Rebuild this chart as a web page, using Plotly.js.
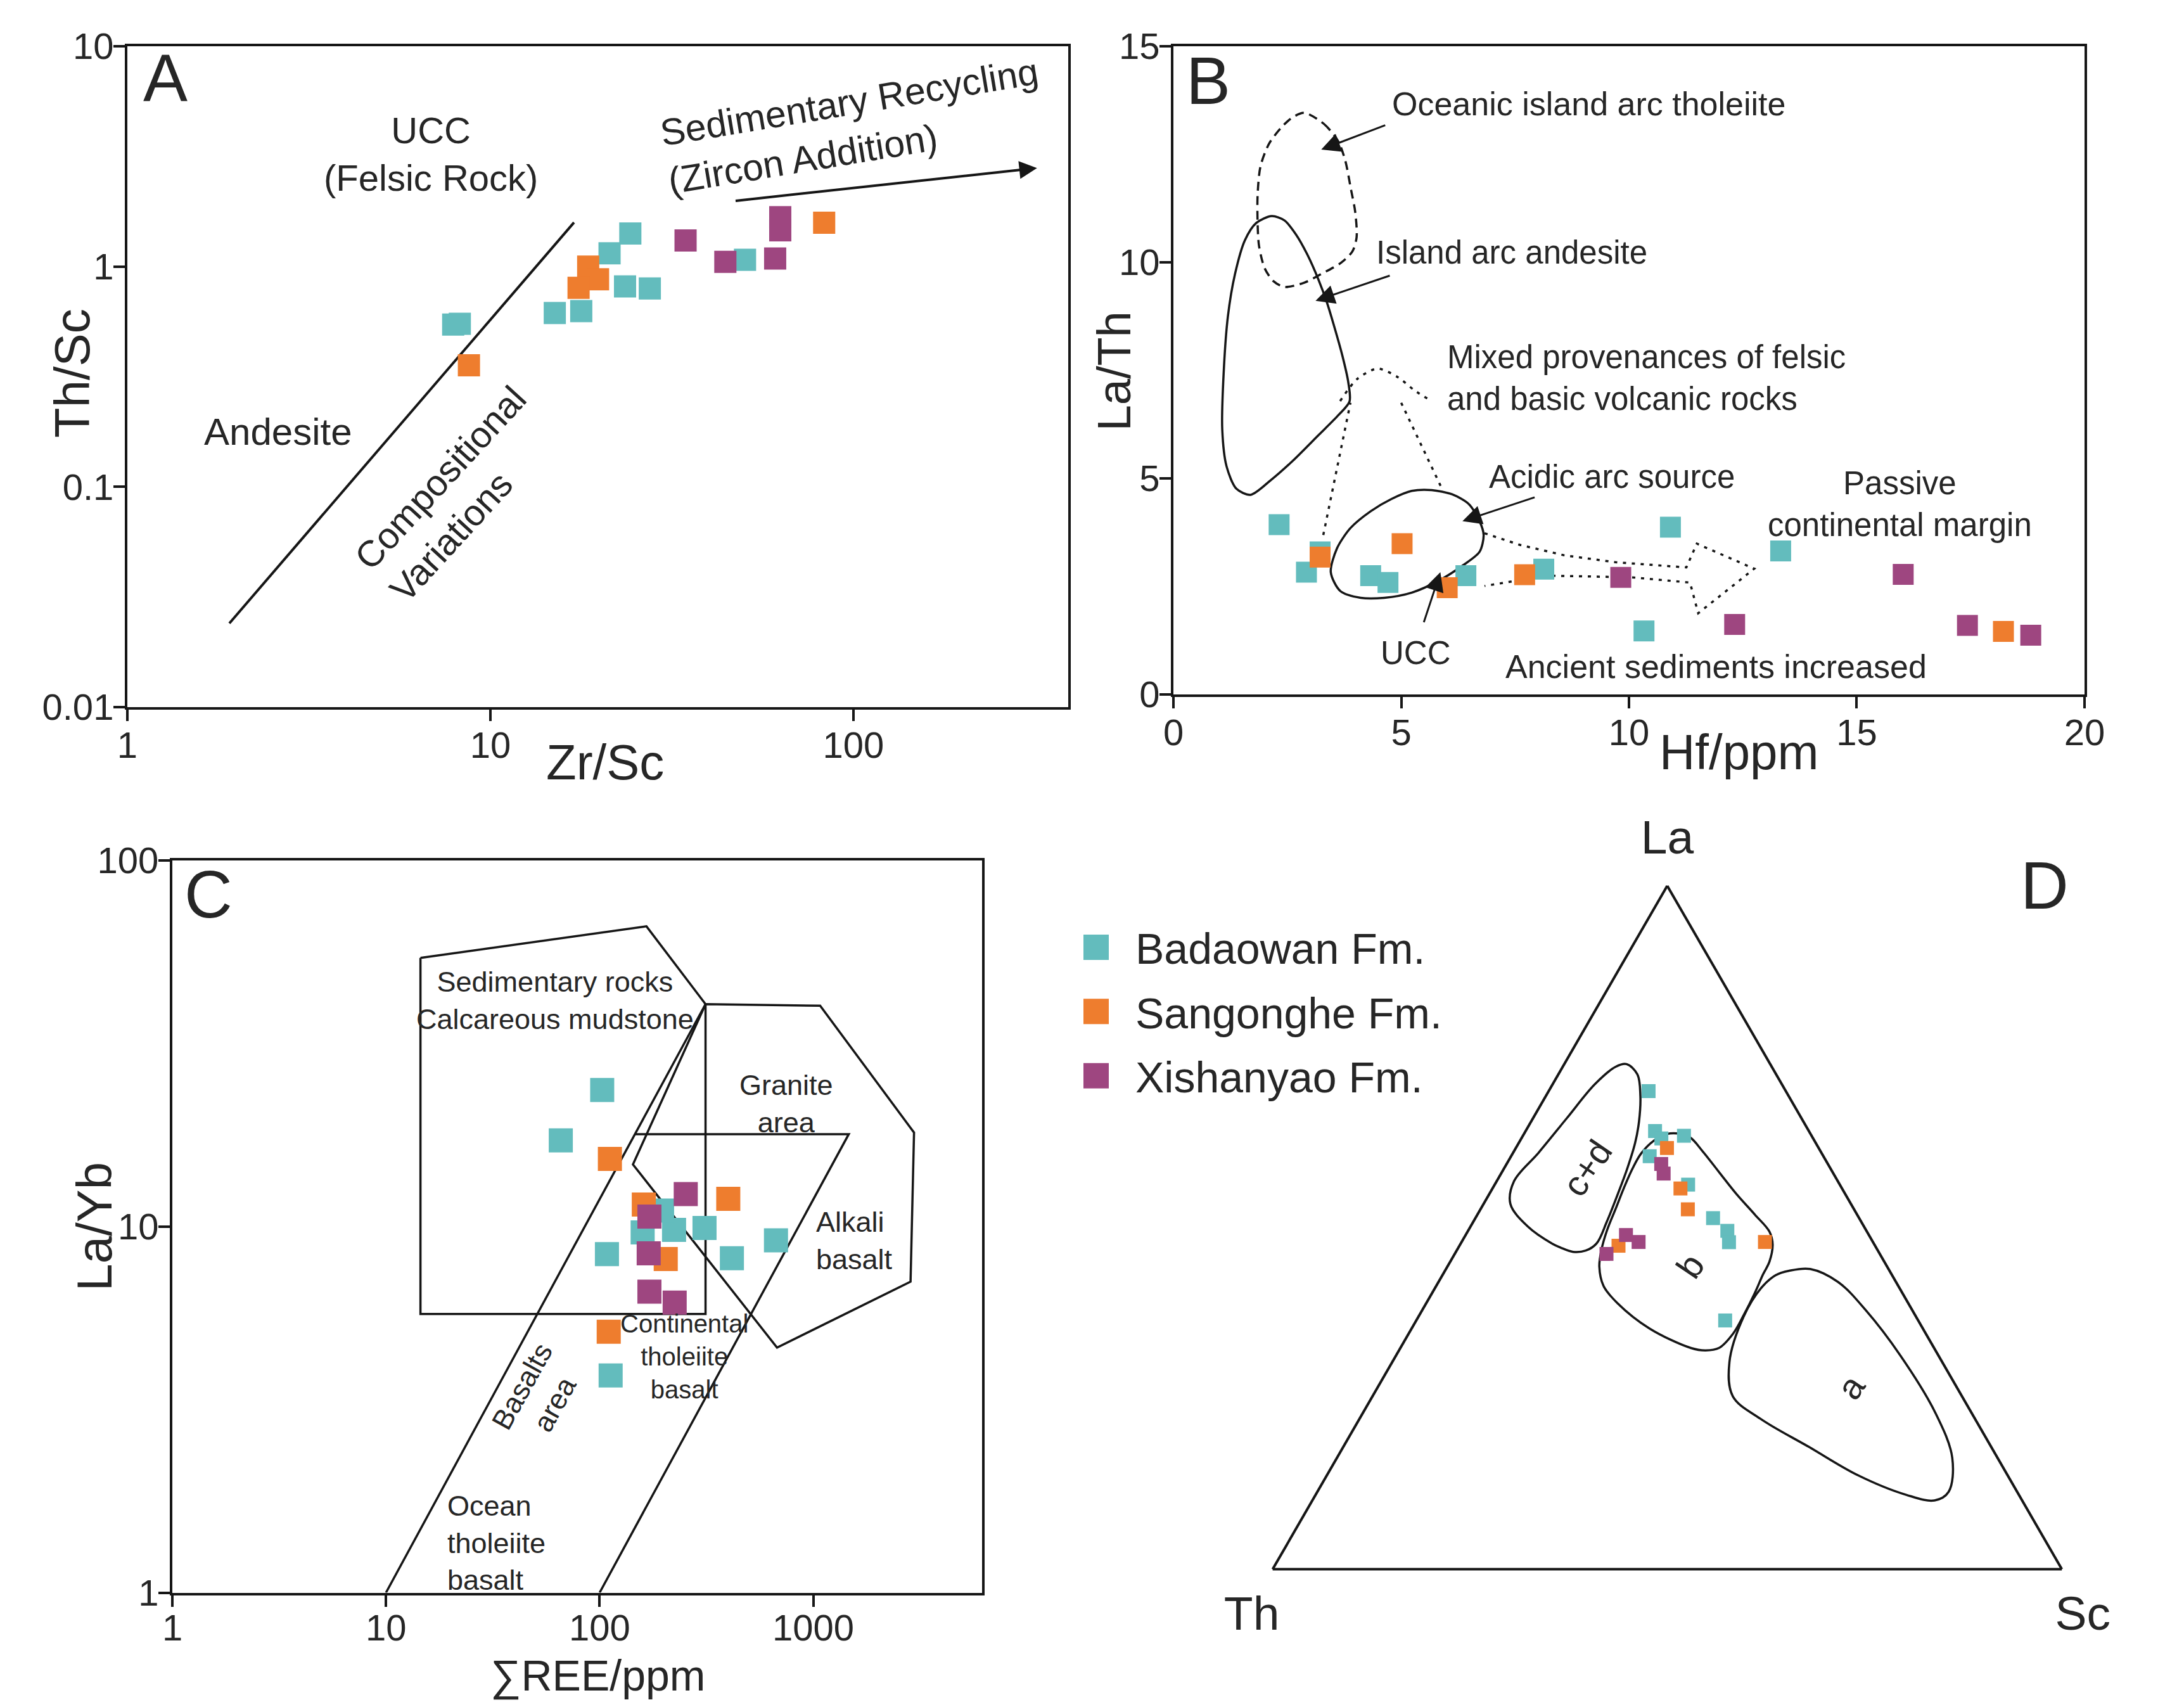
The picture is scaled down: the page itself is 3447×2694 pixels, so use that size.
<!DOCTYPE html>
<html>
<head>
<meta charset="utf-8">
<script src="https://cdn.plot.ly/plotly-3.0.1.min.js"></script>
<style>
  html, body { margin: 0; padding: 0; background: #ffffff; }
  #chart { width: 3447px; height: 2694px; }
</style>
</head>
<body>
<div id="chart"></div>
<script>
// ---------------- Series names and colours ----------------
const seriesNames = ['Badaowan Fm.', 'Sangonghe Fm.', 'Xishanyao Fm.'];
const seriesColors = ['#63BCBD', '#EE7D2E', '#9E4680'];

// ---------------- Panel A : Th/Sc vs Zr/Sc ----------------
const A_bad_x = [7.9, 8.24, 15.05, 17.8, 21.3, 24.3, 23.5, 27.5, 50.3];
const A_bad_y = [0.545, 0.55, 0.615, 0.628, 1.148, 1.413, 0.812, 0.795, 1.073];
const A_san_x = [8.73, 18.6, 19.8, 17.5, 83.1];
const A_san_y = [0.356, 1.0, 0.876, 0.80, 1.58];
const A_xis_x = [34.5, 44.4, 62.9, 62.9, 60.9];
const A_xis_y = [1.314, 1.05, 1.675, 1.46, 1.087];
// compositional-variation reference line
const A_line_x = [1.91, 17.0];
const A_line_y = [0.024, 1.585];
const A_ticks_x = [1, 10, 100];
const A_ticks_y = [0.01, 0.1, 1, 10];

// ---------------- Panel B : La/Th vs Hf ----------------
const B_bad_x = [2.32, 3.22, 2.92, 4.33, 4.71, 6.42, 8.13, 10.91, 10.33, 13.33];
const B_bad_y = [3.93, 3.30, 2.83, 2.75, 2.59, 2.75, 2.90, 3.87, 1.47, 3.32];
const B_san_x = [3.22, 5.02, 6.01, 7.71, 18.22];
const B_san_y = [3.18, 3.49, 2.47, 2.77, 1.46];
const B_xis_x = [9.82, 12.32, 16.02, 17.43, 18.82];
const B_xis_y = [2.71, 1.62, 2.78, 1.60, 1.37];
// fields
const B_oiat_x = [2.873,3.307,3.618,3.773,3.897,3.990,4.021,3.928,3.680,3.245,2.873,2.438,2.19,2.004,1.879,1.848,1.848,1.911,2.097,2.376,2.624,2.873];
const B_oiat_y = [13.46,13.20,12.80,12.35,11.69,11.17,10.58,10.25,9.99,9.73,9.53,9.43,9.57,9.86,10.38,10.91,11.56,12.22,12.74,13.13,13.36,13.46];
const B_iaa_x = [2.159,2.438,2.687,2.935,3.184,3.370,3.556,3.711,3.836,3.866,3.618,3.184,2.624,2.128,1.693,1.382,1.166,1.072,1.103,1.196,1.352,1.569,1.818,2.159];
const B_iaa_y = [11.07,10.97,10.65,10.19,9.60,9.07,8.42,7.83,7.24,6.78,6.46,6.00,5.41,4.95,4.62,4.76,5.28,6.13,7.44,8.75,9.73,10.51,10.91,11.07];
const B_acid_x = [3.455,3.663,4.11,4.63,5.23,5.82,6.345,6.72,6.81,6.72,6.49,6.12,5.67,5.23,4.78,4.33,3.886,3.59,3.455];
const B_acid_y = [2.827,2.394,2.237,2.237,2.356,2.63,2.98,3.30,3.69,4.01,4.40,4.63,4.73,4.71,4.52,4.24,3.85,3.38,2.827];
const B_mixed_x = [3.29, 3.886, null, 3.66, 4.035, 4.48, 4.93, 5.30, 5.67, null, 5.0, 5.90];
const B_mixed_y = [3.69, 6.75, null, 6.79, 7.30, 7.54, 7.34, 7.03, 6.79, null, 6.75, 4.75];
const B_trend_x = [6.83, 7.61, 8.58, 9.70, 11.26, 11.49, 12.75, 11.52, 11.34, 10.07, 8.21, 6.83];
const B_trend_y = [3.73, 3.46, 3.22, 3.06, 2.94, 3.49, 2.91, 1.88, 2.59, 2.71, 2.75, 2.51];

// ---------------- Panel C : La/Yb vs total REE ----------------
const C_bad_x = [102.8, 65.8, 108.2, 159, 223, 196, 309.7, 416, 669, 112.6];
const C_bad_y = [23.6, 17.2, 8.41, 9.64, 9.79, 11.06, 9.91, 8.19, 9.17, 3.92];
const C_san_x = [111.7, 161, 400, 203.9, 110.3];
const C_san_y = [15.3, 11.49, 11.9, 8.15, 5.16];
const C_xis_x = [253, 171, 169.7, 171, 224.5];
const C_xis_y = [12.27, 10.65, 8.45, 6.64, 6.20];
const C_sed_x = [14.5, 165.6, 313.1, 313.1, 14.5, 14.5];
const C_sed_y = [54.2, 66.1, 40.5, 5.77, 5.77, 54.2];
const C_gra_x = [313.1, 1077, 2962, 2853, 676.7, 143.2, 313.1];
const C_gra_y = [40.5, 40.1, 18.06, 7.07, 4.67, 14.78, 40.5];
const C_bas_x = [10, 313.1, null, 100, 1466, 146.2];
const C_bas_y = [1, 40.5, null, 1, 17.88, 17.88];
const C_ticks_x = [1, 10, 100, 1000];
const C_ticks_y = [1, 10, 100];

// ---------------- Panel D : La-Th-Sc ternary ----------------
const D_bad_La = [0.6995, 0.6411, 0.6303, 0.6342, 0.6043, 0.5627, 0.5137, 0.4951, 0.4785, 0.3640];
const D_bad_Th = [0.1739, 0.1949, 0.1923, 0.1617, 0.2201, 0.1922, 0.1851, 0.1763, 0.1825, 0.2446];
const D_bad_Sc = [0.1266, 0.1640, 0.1774, 0.2041, 0.1756, 0.2451, 0.3012, 0.3286, 0.3390, 0.3914];
const D_san_La = [0.6163, 0.5571, 0.5266, 0.4788, 0.4733];
const D_san_Th = [0.1922, 0.2047, 0.2106, 0.1368, 0.3251];
const D_san_Sc = [0.1915, 0.2382, 0.2628, 0.3844, 0.2016];
const D_xis_La = [0.5929, 0.5789, 0.4890, 0.4788, 0.4614];
const D_xis_Th = [0.2112, 0.2151, 0.3078, 0.2969, 0.3463];
const D_xis_Sc = [0.1959, 0.2060, 0.2032, 0.2243, 0.1923];
// fields (La, Th); Sc completes the sum of 1
const D_cd_La = [0.739,0.7241,0.6923,0.6548,0.6238,0.5864,0.5488,0.5085,0.4766,0.4662,0.4643,0.4707,0.4764,0.5014,0.5345,0.5678,0.6096,0.6599,0.7097,0.7352,0.739];
const D_cd_Th = [0.182,0.1758,0.1879,0.2084,0.2288,0.2574,0.2883,0.3223,0.3513,0.3702,0.3872,0.4,0.4076,0.4259,0.4315,0.4102,0.3581,0.2973,0.2368,0.1976,0.182];
const D_b_La = [0.6320,0.6119,0.5808,0.5497,0.5187,0.4938,0.4751,0.4500,0.4313,0.4031,0.3719,0.3447,0.3238,0.3201,0.3236,0.3524,0.3897,0.4146,0.4427,0.4676,0.4956,0.5270,0.5583,0.5864,0.6083,0.6271,0.6366,0.6376,0.6320];
const D_b_Th = [0.1554,0.1495,0.1438,0.1380,0.1295,0.1235,0.1289,0.1455,0.1630,0.1879,0.2171,0.2442,0.2724,0.2914,0.3080,0.3465,0.3686,0.3735,0.3647,0.3495,0.3286,0.3020,0.2756,0.2507,0.2289,0.2033,0.1825,0.1686,0.1554];
const D_a_La = [0.4367,0.4393,0.4203,0.3789,0.3126,0.2296,0.1631,0.1132,0.1007,0.1087,0.1375,0.1787,0.2201,0.2531,0.3030,0.3697,0.4115,0.4302,0.4367];
const D_a_Th = [0.1271,0.0992,0.0734,0.0589,0.0482,0.0458,0.0573,0.0869,0.1109,0.1424,0.1896,0.2307,0.2718,0.2904,0.2697,0.2183,0.1752,0.1475,0.1271];
const compl = (a, b) => a.map((v, i) => 1 - v - b[i]);

// ---------------- styles ----------------
const FONT = 'Liberation Sans, Arial, Helvetica, sans-serif';
const INK = '#161616';
const TXT = '#262626';

function pts(x, y, k, xa, ya, size, legend) {
  return {
    type: 'scatter', mode: 'markers', x: x, y: y, xaxis: xa, yaxis: ya,
    name: seriesNames[k], legendgroup: 'g' + k, showlegend: !!legend,
    marker: { symbol: 'square', size: size, color: seriesColors[k], line: { width: 0 } },
    hoverinfo: 'skip'
  };
}
function ln(x, y, xa, ya, w, dash, shape) {
  return {
    type: 'scatter', mode: 'lines', x: x, y: y, xaxis: xa, yaxis: ya, showlegend: false,
    line: { color: INK, width: w, dash: dash || 'solid', shape: shape || 'linear', smoothing: 0.8 },
    connectgaps: false, hoverinfo: 'skip'
  };
}
function tern(a, b, c, k, size) {
  return {
    type: 'scatterternary', mode: 'markers', a: a, b: b, c: c, subplot: 'ternary',
    name: seriesNames[k], legendgroup: 'g' + k, showlegend: false,
    marker: { symbol: 'square', size: size, color: seriesColors[k], line: { width: 0 } },
    hoverinfo: 'skip'
  };
}
function ternField(a, b) {
  return {
    type: 'scatterternary', mode: 'lines', a: a, b: b, c: compl(a, b), subplot: 'ternary',
    showlegend: false, line: { color: INK, width: 3.5, shape: 'spline', smoothing: 1 }, hoverinfo: 'skip'
  };
}

const data = [
  // A
  ln(A_line_x, A_line_y, 'x', 'y', 4),
  pts(A_bad_x, A_bad_y, 0, 'x', 'y', 35, true),
  pts(A_san_x, A_san_y, 1, 'x', 'y', 35, true),
  pts(A_xis_x, A_xis_y, 2, 'x', 'y', 35, true),
  // B
  ln(B_oiat_x, B_oiat_y, 'x2', 'y2', 3.5, '14px,9px', 'spline'),
  ln(B_iaa_x, B_iaa_y, 'x2', 'y2', 3.5, 'solid', 'spline'),
  ln(B_acid_x, B_acid_y, 'x2', 'y2', 3.5, 'solid', 'spline'),
  ln(B_mixed_x, B_mixed_y, 'x2', 'y2', 3.5, '5px,9px', 'spline'),
  ln(B_trend_x, B_trend_y, 'x2', 'y2', 3.5, '5px,9px', 'linear'),
  pts(B_bad_x, B_bad_y, 0, 'x2', 'y2', 33),
  pts(B_san_x, B_san_y, 1, 'x2', 'y2', 33),
  pts(B_xis_x, B_xis_y, 2, 'x2', 'y2', 33),
  // C
  ln(C_sed_x, C_sed_y, 'x3', 'y3', 3.5),
  ln(C_gra_x, C_gra_y, 'x3', 'y3', 3.5),
  ln(C_bas_x, C_bas_y, 'x3', 'y3', 3.5),
  pts(C_bad_x, C_bad_y, 0, 'x3', 'y3', 38),
  pts(C_san_x, C_san_y, 1, 'x3', 'y3', 38),
  pts(C_xis_x, C_xis_y, 2, 'x3', 'y3', 38),
  // D
  ternField(D_cd_La, D_cd_Th),
  ternField(D_b_La, D_b_Th),
  ternField(D_a_La, D_a_Th),
  tern(D_bad_La, D_bad_Th, D_bad_Sc, 0, 22),
  tern(D_san_La, D_san_Th, D_san_Sc, 1, 22),
  tern(D_xis_La, D_xis_Th, D_xis_Sc, 2, 22)
];

const axBase = {
  showline: true, mirror: true, linecolor: INK, linewidth: 4,
  ticks: 'outside', ticklen: 18, tickwidth: 4, tickcolor: INK, ticklabelstandoff: -12,
  showgrid: false, zeroline: false, tickfont: { size: 58, color: TXT, family: FONT }
};

function ann(xref, yref, x, y, text, size, extra) {
  return Object.assign({ xref: xref, yref: yref, x: x, y: y, text: text, showarrow: false,
    xanchor: 'center', yanchor: 'middle',
    font: { size: size, color: TXT, family: FONT } }, extra || {});
}
function arrow(xref, yref, x, y, ax, ay, w, s) {
  return { xref: xref, yref: yref, axref: xref, ayref: yref, x: x, y: y, ax: ax, ay: ay,
    text: '', showarrow: true, arrowhead: 2, arrowsize: s, arrowwidth: w, arrowcolor: INK, standoff: 0, startstandoff: 0 };
}

const annotations = [
  // axis titles, placed where the figure has them (they sit closer than Plotly's own title slot)
  ann('paper', 'paper', 0.03307, 0.78137, 'Th/Sc', 78, { textangle: -90 }),
  ann('paper', 'paper', 0.27705, 0.55345, 'Zr/Sc', 78),
  ann('paper', 'paper', 0.51015, 0.78255, 'La/Th', 74, { textangle: -90 }),
  ann('paper', 'paper', 0.79614, 0.55921, 'Hf/ppm', 78),
  ann('paper', 'paper', 0.04297, 0.28152, 'La/Yb', 78, { textangle: -90 }),
  ann('paper', 'paper', 0.27369, 0.0185, '\u2211REE/ppm', 68),
  // A
  ann('x', 'y', 0.1042, 0.857, 'A', 105),
  ann('x', 'y', 0.836, 0.512, 'UCC<br>(Felsic Rock)', 58),
  ann('x', 'y', 2.0, 0.636, 'Sedimentary Recycling<br>(Zircon Addition)', 59, { textangle: -9.4, align: 'left' }),
  ann('x', 'y', 0.4154, -0.750, 'Andesite', 60),
  ann('x', 'y', 0.9106, -1.032, 'Compositional<br>Variations', 58, { textangle: -47.5, align: 'left' }),
  arrow('x', 'y', 2.506, 0.447, 1.673, 0.298, 4, 1.4),
  // B
  ann('x2', 'y2', 0.768, 14.2, 'B', 105),
  ann('x2', 'y2', 9.11, 13.67, 'Oceanic island arc tholeiite', 52),
  ann('x2', 'y2', 7.43, 10.23, 'Island arc andesite', 51),
  ann('x2', 'y2', 5.976, 7.33, 'Mixed provenances of felsic<br>and basic volcanic rocks', 51, { xanchor: 'left', align: 'left' }),
  ann('x2', 'y2', 9.62, 5.03, 'Acidic arc source', 51),
  ann('x2', 'y2', 15.94, 4.41, 'Passive<br>continental margin', 51),
  ann('x2', 'y2', 5.32, 0.96, 'UCC', 51),
  ann('x2', 'y2', 11.91, 0.645, 'Ancient sediments increased', 52),
  arrow('x2', 'y2', 3.245, 12.61, 4.67, 13.18, 3, 2),
  arrow('x2', 'y2', 3.12, 9.11, 4.77, 9.70, 3, 2),
  arrow('x2', 'y2', 6.345, 4.01, 7.95, 4.57, 3, 2),
  arrow('x2', 'y2', 5.86, 2.83, 5.49, 1.65, 3, 2),
  // C
  ann('x3', 'y3', 0.169, 1.908, 'C', 105),
  ann('x3', 'y3', 1.7927, 1.618, 'Sedimentary rocks<br>Calcareous mudstone', 45),
  ann('x3', 'y3', 2.874, 1.335, 'Granite<br>area', 45),
  ann('x3', 'y3', 3.006, 0.962, 'Alkali<br>basalt', 45, { xanchor: 'left', align: 'left' }),
  ann('x3', 'y3', 2.395, 0.644, 'Continental<br>tholeiite<br>basalt', 40),
  ann('x3', 'y3', 1.714, 0.539, 'Basalts<br>area', 45, { textangle: -61 }),
  ann('x3', 'y3', 1.281, 0.136, 'Ocean<br>tholeiite<br>basalt', 45, { xanchor: 'left', align: 'left' }),
  // D
  ann('paper', 'paper', 0.93609, 0.48114, 'D', 105),
  ann('paper', 'paper', 0.72672, 0.31578, 'c+d', 56, { textangle: -56 }),
  ann('paper', 'paper', 0.77372, 0.25835, 'b', 56, { textangle: -56 }),
  ann('paper', 'paper', 0.84726, 0.18745, 'a', 56, { textangle: -56 })
];

const ternAxis = (t, ticks) => ({
  title: { text: t, font: { size: 75, color: TXT, family: FONT } },
  showgrid: false, showticklabels: false, showline: true, linecolor: INK, linewidth: 4,
  ticks: ticks ? 'outside' : '', ticklen: ticks || 0, tickcolor: 'rgba(0,0,0,0)', min: 0
});

const layout = {
  width: 3447, height: 2694,
  margin: { l: 0, r: 0, t: 0, b: 0, pad: 0 },
  paper_bgcolor: '#ffffff', plot_bgcolor: 'rgba(0,0,0,0)',
  font: { family: FONT, color: TXT },
  showlegend: true,
  legend: {
    x: 0.4839, y: 0.4639, xanchor: 'left', yanchor: 'top',
    font: { size: 68, color: TXT, family: FONT },
    bgcolor: 'rgba(0,0,0,0)', itemsizing: 'trace', itemwidth: 114,
    traceorder: 'grouped', tracegroupgap: 10
  },
  xaxis: Object.assign({}, axBase, { type: 'log', range: [0, 2.592], domain: [0.05831, 0.48912], anchor: 'y',
    tickvals: A_ticks_x, ticktext: A_ticks_x.map(String) }),
  yaxis: Object.assign({}, axBase, { type: 'log', range: [-2, 1], domain: [0.58575, 0.9729], anchor: 'x',
    tickvals: A_ticks_y, ticktext: A_ticks_y.map(String) }),
  xaxis2: Object.assign({}, axBase, { range: [0, 20], dtick: 5, domain: [0.53728, 0.95445], anchor: 'y2' }),
  yaxis2: Object.assign({}, axBase, { range: [0, 15], dtick: 5, domain: [0.59317, 0.9729], anchor: 'x2' }),
  xaxis3: Object.assign({}, axBase, { type: 'log', range: [0, 3.79], domain: [0.07891, 0.44966], anchor: 'y3',
    tickvals: C_ticks_x, ticktext: C_ticks_x.map(String), ticklabelstandoff: -16 }),
  yaxis3: Object.assign({}, axBase, { type: 'log', range: [0, 2], domain: [0.067, 0.49592], anchor: 'x3',
    tickvals: C_ticks_y, ticktext: C_ticks_y.map(String) }),
  ternary: {
    domain: { x: [0.58271, 0.94407], y: [0.0807, 0.48111] },
    sum: 1, bgcolor: 'rgba(0,0,0,0)',
    aaxis: ternAxis('La', 0),
    baxis: ternAxis('Th', 30),
    caxis: ternAxis('Sc', 30)
  },
  annotations: annotations
};

Plotly.newPlot('chart', data, layout, { displayModeBar: false, staticPlot: true }).then(function (gd) {
  // enlarge the legend swatches to the size used in the figure
  gd.querySelectorAll('.legend .legendpoints path.scatterpts').forEach(function (p) {
    var t = p.getAttribute('transform') || '';
    p.setAttribute('transform', t + ' scale(2.5)');
  });
});
</script>
</body>
</html>
